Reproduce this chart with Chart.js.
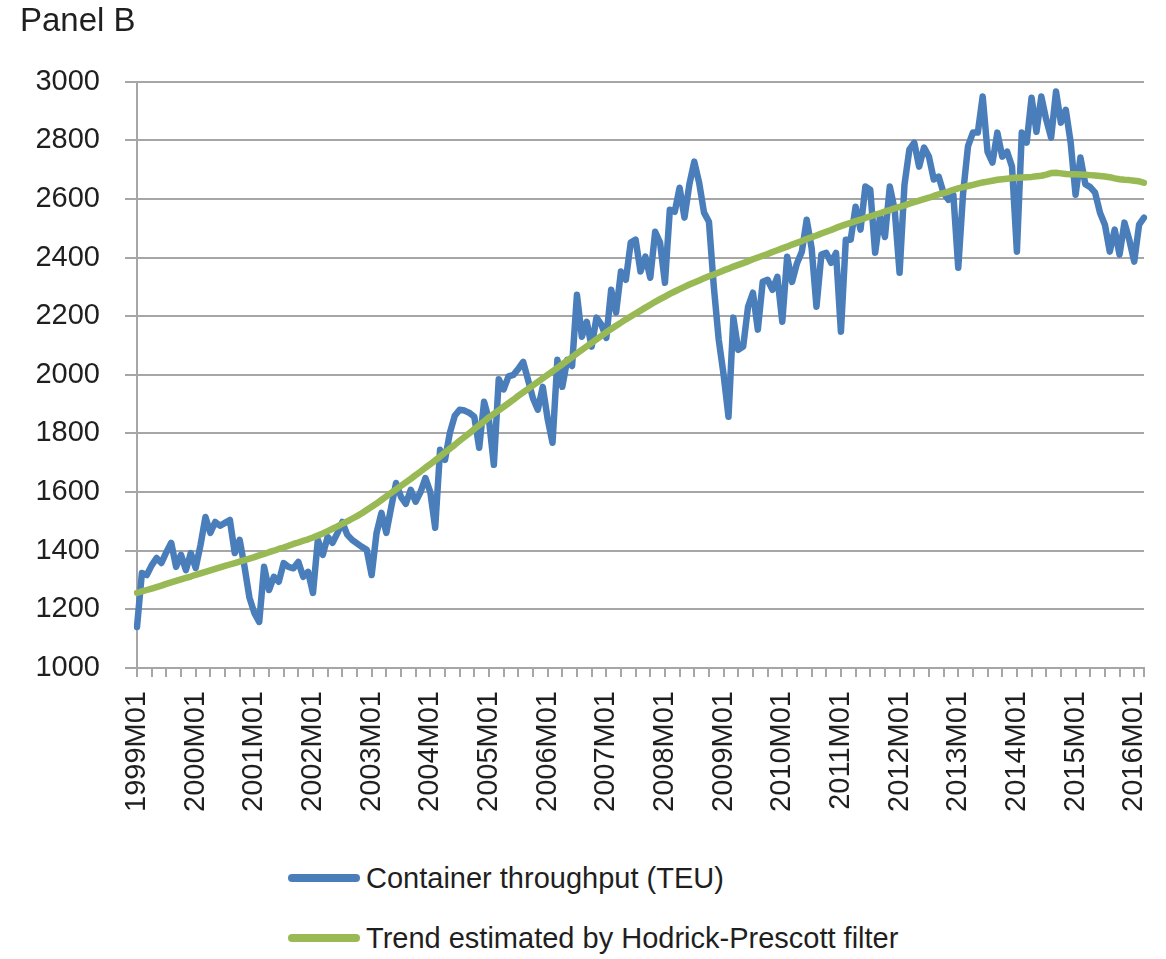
<!DOCTYPE html>
<html>
<head>
<meta charset="utf-8">
<script src="https://cdn.jsdelivr.net/npm/chart.js@4"></script>
<style>
  body { margin: 0; background: #fff; font-family: "Liberation Sans", Arial, sans-serif; }
  #wrap { position: relative; width: 1166px; height: 828px; }
  #legend { padding-left: 288px; padding-top: 20px; }
  .item { display: flex; align-items: center; height: 60px; font-size: 29px; color: #1f1f1f; }
  .swatch { width: 72px; height: 8px; border-radius: 4px; margin-right: 6px; }
</style>
</head>
<body>
<div id="wrap"><canvas id="teu"></canvas></div>
<div id="legend"></div>
<script>
// monthly series, 1999M01 .. 2016M03
const years = [1999, 2000, 2001, 2002, 2003, 2004, 2005, 2006, 2007, 2008,
  2009, 2010, 2011, 2012, 2013, 2014, 2015, 2016];
const lastMonth = 3;

const throughput = [
  1140, 1324, 1317, 1350, 1375, 1358, 1395, 1427, 1345, 1386, 1334, 1392,
  1341, 1420, 1515, 1461, 1498, 1485, 1495, 1505, 1392, 1437, 1345, 1240,
  1188, 1157, 1345, 1266, 1311, 1294, 1358, 1345, 1340, 1362, 1311, 1328,
  1256, 1437, 1386, 1447, 1427, 1460, 1498, 1455, 1437, 1425, 1413, 1403,
  1317, 1460, 1529, 1461, 1549, 1631, 1584, 1560, 1608, 1567, 1600, 1648,
  1600, 1478, 1744, 1710, 1802, 1860, 1881, 1878, 1870, 1857, 1751, 1908,
  1846, 1693, 1985, 1950, 1995, 2000, 2020, 2044, 1983, 1920, 1881, 1959,
  1850, 1768, 2051, 1959, 2051, 2030, 2273, 2130, 2181, 2096, 2195, 2171,
  2126, 2290, 2212, 2352, 2324, 2451, 2461, 2352, 2403, 2331, 2488, 2451,
  2314, 2563, 2556, 2638, 2536, 2650, 2727, 2655, 2553, 2522, 2300, 2120,
  2000, 1857, 2195, 2085, 2096, 2232, 2280, 2154, 2317, 2324, 2290, 2334,
  2181, 2403, 2317, 2380, 2420, 2529, 2433, 2232, 2410, 2416, 2382, 2416,
  2147, 2461, 2461, 2573, 2495, 2642, 2631, 2416, 2540, 2470, 2642, 2563,
  2348, 2648, 2768, 2792, 2710, 2775, 2744, 2666, 2676, 2620, 2597, 2614,
  2365, 2621, 2780, 2826, 2826, 2949, 2760, 2724, 2826, 2744, 2761, 2710,
  2420, 2826, 2792, 2945, 2829, 2949, 2870, 2809, 2966, 2860, 2904, 2792,
  2614, 2741, 2650, 2640, 2621, 2553, 2512, 2420, 2495, 2410, 2519, 2460,
  2386, 2512, 2536
];

const hpTrend = [
  1256, 1261, 1266, 1271, 1276, 1281, 1287, 1292, 1297, 1302, 1307, 1312,
  1318, 1323, 1328, 1333, 1338, 1343, 1348, 1353, 1358, 1363, 1368, 1373,
  1378, 1384, 1389, 1395, 1400, 1406, 1411, 1417, 1423, 1428, 1434, 1439,
  1445, 1452, 1459, 1467, 1475, 1483, 1492, 1500, 1509, 1518, 1528, 1539,
  1550, 1561, 1573, 1585, 1597, 1609, 1621, 1633, 1645, 1658, 1670, 1683,
  1695, 1708, 1721, 1735, 1748, 1761, 1775, 1788, 1801, 1815, 1828, 1841,
  1855, 1867, 1879, 1891, 1903, 1915, 1928, 1940, 1952, 1964, 1976, 1988,
  2000, 2012, 2024, 2036, 2048, 2060, 2073, 2085, 2097, 2109, 2121, 2133,
  2145, 2156, 2167, 2178, 2189, 2199, 2209, 2219, 2229, 2239, 2249, 2258,
  2267, 2276, 2284, 2292, 2300, 2308, 2315, 2322, 2329, 2336, 2342, 2349,
  2356, 2362, 2369, 2375, 2381, 2387, 2394, 2400, 2406, 2412, 2419, 2425,
  2431, 2437, 2444, 2450, 2456, 2463, 2469, 2475, 2482, 2488, 2494, 2501,
  2507, 2513, 2518, 2524, 2529, 2535, 2540, 2546, 2551, 2557, 2562, 2568,
  2573, 2578, 2584, 2589, 2594, 2599, 2604, 2610, 2615, 2620, 2625, 2631,
  2636, 2640, 2644, 2648, 2652, 2656, 2659, 2662, 2665, 2667, 2669, 2671,
  2672, 2673, 2674, 2675, 2677, 2679, 2683, 2688, 2689, 2687, 2685, 2684,
  2684, 2683, 2682, 2681, 2680, 2678, 2676, 2674, 2670, 2667, 2665, 2664,
  2662, 2660, 2655
];

const months = [];
years.forEach(y => {
  const n = y === years[years.length - 1] ? lastMonth : 12;
  for (let m = 1; m <= n; m++) months.push(y + 'M' + String(m).padStart(2, '0'));
});

const textColor = '#1f1f1f';
const gridColor = '#a6a6a6';
const fontFamily = '"Liberation Sans", Arial, sans-serif';

const chart = new Chart(document.getElementById('teu'), {
  type: 'line',
  data: {
    labels: months,
    datasets: [
      {
        label: 'Container throughput (TEU)',
        data: throughput,
        borderColor: '#4a7ebb',
        borderWidth: 6.5,
        order: 1
      },
      {
        label: 'Trend estimated by Hodrick-Prescott filter',
        data: hpTrend,
        borderColor: '#98b954',
        borderWidth: 6.5,
        order: 0
      }
    ]
  },
  options: {
    animation: false,
    responsive: true,
    maintainAspectRatio: false,
    elements: {
      point: { radius: 0 },
      line: { tension: 0, borderJoinStyle: 'round', borderCapStyle: 'round' }
    },
    layout: { padding: { left: 20, right: 22, top: 2, bottom: 0 } },
    plugins: {
      legend: { display: false },
      tooltip: { enabled: false },
      title: {
        display: true,
        text: 'Panel B',
        align: 'start',
        color: textColor,
        font: { family: fontFamily, size: 33, weight: 'normal' },
        padding: { top: 0, bottom: 40 }
      }
    },
    scales: {
      x: {
        type: 'category',
        offset: false,
        afterFit: s => { s.height = 160; s.paddingLeft = 0; s.paddingRight = 0; },
        border: { display: true, color: gridColor, width: 2 },
        grid: { drawOnChartArea: false, color: gridColor, lineWidth: 2, tickLength: 9 },
        ticks: {
          autoSkip: false,
          minRotation: 90,
          maxRotation: 90,
          padding: 14,
          color: textColor,
          font: { family: fontFamily, size: 29 },
          callback: function (value, index) {
            const lab = this.getLabelForValue(value);
            if (lab.endsWith('M01')) return lab;
            if (index % 3 === 0 || index === months.length - 1) return '';
            return null;
          }
        }
      },
      y: {
        min: 1000,
        max: 3000,
        afterFit: s => { s.width = 117; },
        border: { display: true, color: gridColor, width: 2 },
        grid: { color: gridColor, lineWidth: 2, tickLength: 12 },
        ticks: {
          stepSize: 200,
          padding: 25,
          color: textColor,
          font: { family: fontFamily, size: 29 },
          callback: v => String(v)
        }
      }
    }
  }
});

// legend stacked below the plot, as in the original
const legend = document.getElementById('legend');
chart.data.datasets.forEach(ds => {
  const row = document.createElement('div');
  row.className = 'item';
  const sw = document.createElement('span');
  sw.className = 'swatch';
  sw.style.background = ds.borderColor;
  const txt = document.createElement('span');
  txt.textContent = ds.label;
  row.appendChild(sw);
  row.appendChild(txt);
  legend.appendChild(row);
});
</script>
</body>
</html>
